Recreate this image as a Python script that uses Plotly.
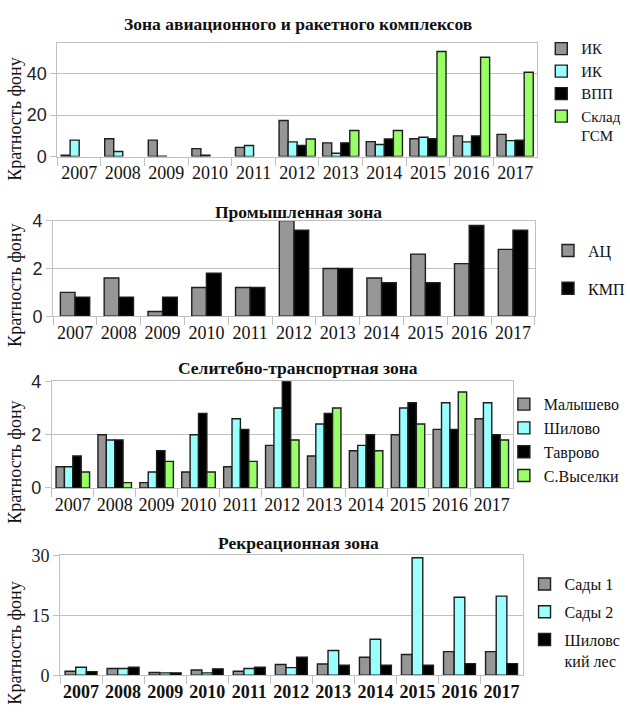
import plotly.graph_objects as go
from plotly.subplots import make_subplots

# ---- data -------------------------------------------------------------
years = [str(y) for y in range(2007, 2018)]

# Зона авиационного и ракетного комплексов
avia_ik1 = [0.6, 8.6, 7.9, 3.8, 4.4, 17.4, 6.6, 7.2, 8.6, 10.0, 10.7]
avia_ik2 = [7.9, 2.4, 0.2, 0.6, 5.3, 7.1, 1.6, 5.8, 9.3, 7.1, 7.7]
avia_vpp = [None, None, None, None, None, 5.3, 6.6, 8.5, 8.6, 9.9, 7.9]
avia_gsm = [None, None, None, None, None, 8.5, 12.6, 12.6, 50.8, 48.0, 40.8]

# Промышленная зона
prom_ac = [1.0, 1.6, 0.2, 1.2, 1.2, 4.0, 2.0, 1.6, 2.6, 2.2, 2.8]
prom_kmp = [0.8, 0.8, 0.8, 1.8, 1.2, 3.6, 2.0, 1.4, 1.4, 3.8, 3.6]

# Селитебно-транспортная зона
sel_malyshevo = [0.8, 2.0, 0.2, 0.6, 0.8, 1.6, 1.2, 1.4, 2.0, 2.2, 2.6]
sel_shilovo = [0.8, 1.8, 0.6, 2.0, 2.6, 3.0, 2.4, 1.6, 3.0, 3.2, 3.2]
sel_tavrovo = [1.2, 1.8, 1.4, 2.8, 2.2, 4.0, 2.8, 2.0, 3.2, 2.2, 2.0]
sel_vyselki = [0.6, 0.2, 1.0, 0.6, 1.0, 1.8, 3.0, 1.4, 2.4, 3.6, 1.8]

# Рекреационная зона
rec_sady1 = [1.0, 1.7, 0.7, 1.3, 1.0, 2.7, 2.8, 4.5, 5.2, 5.9, 5.9]
rec_sady2 = [2.0, 1.7, 0.6, 0.6, 1.7, 1.9, 6.2, 9.0, 29.4, 19.5, 19.8]
rec_les = [0.9, 2.0, 0.6, 1.6, 2.0, 4.5, 2.5, 2.5, 2.5, 2.9, 2.9]

panel_titles = [
    "Зона авиационного и ракетного комплексов",
    "Промышленная зона",
    "Селитебно-транспортная зона",
    "Рекреационная зона",
]
y_title = "Кратность фону"

# ---- styling ----------------------------------------------------------
W, H = 630, 718
SERIF = "Liberation Serif"
SANS = "Liberation Sans"
GRAY, CYAN, BLACK, GREEN = "#969696", "#99ffff", "#000000", "#99ff66"
AXIS = "#c0c0c0"
OUTLINE = "#1e1e1e"


def px_x(v):
    return v / W


def px_y(v):
    return 1 - v / H


# plot-area rectangles in pixels: (left, right, top, bottom)
boxes = [
    (58.3, 545.6, 34.0, 150.7),
    (54.0, 543.5, 216.7, 315.0),
    (52.7, 521.0, 382.0, 491.7),
    (61.0, 531.0, 561.0, 684.3),
]

panels = [
    dict(series=[("ИК", avia_ik1, GRAY), ("ИК", avia_ik2, CYAN),
                 ("ВПП", avia_vpp, BLACK), ("Склад<br>ГСМ", avia_gsm, GREEN)],
         gap=0.17, yrange=[0, 54.9], ticks=[0, 20, 40],
         ytickfont=dict(family=SANS, size=18, color="#222"),
         xtickfont=dict(family=SERIF, size=18, color="#111"),
         legend=dict(x=550, y=23, gap=0, order="normal", size=15), ytitle_y=112),
    dict(series=[("АЦ", prom_ac, GRAY), ("КМП", prom_kmp, BLACK)],
         gap=0.33, yrange=[0, 4], ticks=[0, 2, 4],
         ytickfont=dict(family=SANS, size=18, color="#222"),
         xtickfont=dict(family=SERIF, size=18, color="#111"),
         legend=dict(x=557, y=230, gap=14, order="grouped", size=16), ytitle_y=283),
    dict(series=[("Малышево", sel_malyshevo, GRAY), ("Шилово", sel_shilovo, CYAN),
                 ("Таврово", sel_tavrovo, BLACK), ("С.Выселки", sel_vyselki, GREEN)],
         gap=0.2, yrange=[0, 4], ticks=[0, 2, 4],
         ytickfont=dict(family=SANS, size=18, color="#222"),
         xtickfont=dict(family=SERIF, size=18, color="#111"),
         legend=dict(x=512, y=388, gap=0, order="normal", size=16), ytitle_y=465),
    dict(series=[("Сады 1", rec_sady1, GRAY), ("Сады 2", rec_sady2, CYAN),
                 ("Шиловс<br>кий лес", rec_les, BLACK)],
         gap=0.24, yrange=[0, 30], ticks=[0, 15, 30],
         ytickfont=dict(family=SERIF, size=18, color="#222"),
         xtickfont=dict(family=SERIF, size=18, color="#111", weight="bold"),
         legend=dict(x=533, y=573, gap=4, order="grouped", size=16), ytitle_y=651),
]

fig = make_subplots(rows=4, cols=1)

annotations = []
for p, (panel, box) in enumerate(zip(panels, boxes), start=1):
    n = len(panel["series"])
    bw = (1 - panel["gap"]) / n
    legend_name = "legend" if p == 1 else f"legend{p}"
    for i, (name, vals, color) in enumerate(panel["series"]):
        fig.add_trace(
            go.Bar(
                x=years, y=vals, name=name,
                width=bw, offset=-(1 - panel["gap"]) / 2 + i * bw,
                marker=dict(color=color, line=dict(color=OUTLINE, width=1.4)),
                legend=legend_name, legendgroup=f"g{p}_{i}",
                showlegend=True,
            ),
            row=p, col=1,
        )

    left, right, top, bottom = box
    sfx = "" if p == 1 else str(p)
    fig.layout[f"xaxis{sfx}"].update(
        domain=[px_x(left), px_x(right)],
        type="category", showline=True, linecolor=AXIS, linewidth=1, mirror=True,
        ticks="outside", tickson="boundaries", ticklen=8, tickcolor=AXIS,
        showgrid=False, tickfont=panel["xtickfont"], tickangle=0, fixedrange=True,
    )
    fig.layout[f"yaxis{sfx}"].update(
        domain=[px_y(bottom), px_y(top)],
        range=panel["yrange"], tickvals=panel["ticks"],
        showgrid=True, gridcolor=AXIS, gridwidth=1,
        showline=True, linecolor=AXIS, linewidth=1, mirror=True,
        ticks="outside", ticklen=6, tickcolor=AXIS, zeroline=False,
        tickfont=panel["ytickfont"], fixedrange=True,
    )

    lg = panel["legend"]
    fig.layout[legend_name] = dict(
        x=px_x(lg["x"]), y=px_y(lg["y"]), xanchor="left", yanchor="top",
        xref="paper", yref="paper",
        font=dict(family=SERIF, size=lg["size"], color="#111"),
        bgcolor="rgba(0,0,0,0)", borderwidth=0,
        tracegroupgap=lg["gap"], valign="top", traceorder=lg["order"],
        itemclick=False, itemdoubleclick=False,
    )

    # panel heading
    annotations.append(dict(
        text=panel_titles[p - 1], xref="paper", yref="paper",
        x=px_x(303), y=px_y([14, 208, 368, 548][p - 1]),
        xanchor="center", yanchor="middle", showarrow=False,
        font=dict(family=SERIF, size=17.5, color="#111", weight="bold"),
    ))
    # vertical axis caption
    annotations.append(dict(
        text=y_title, xref="paper", yref="paper",
        x=px_x(15), y=px_y(panel["ytitle_y"]), textangle=-90,
        xanchor="center", yanchor="middle", showarrow=False,
        font=dict(family=SERIF, size=18, color="#111"),
    ))

fig.update_layout(
    width=W, height=H, margin=dict(l=0, r=0, t=0, b=0),
    paper_bgcolor="white", plot_bgcolor="white",
    barmode="overlay", annotations=annotations,
)

fig.write_html("out.html", config={"displayModeBar": False})
